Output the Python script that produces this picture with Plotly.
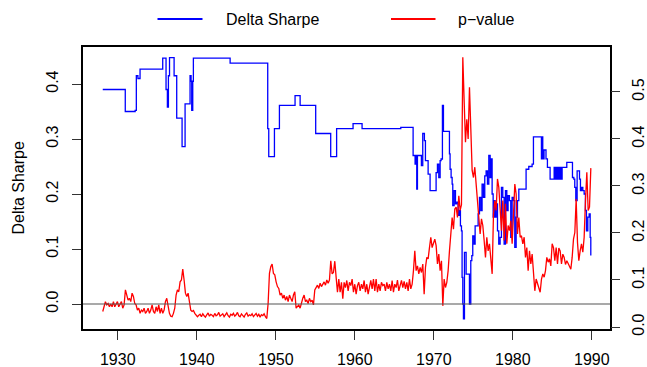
import plotly.graph_objects as go

# ---- Delta Sharpe: step series, each value holds until the next change date ----
ds_years = [
    1928.10, 1930.95, 1932.20, 1932.35, 1932.55, 1932.82, 1935.69, 1936.11, 1936.28, 1936.41,
    1936.55, 1937.13, 1937.46, 1938.14, 1938.52, 1939.15, 1939.28, 1939.36, 1939.49, 1939.57,
    1944.22, 1948.98, 1949.11, 1949.83, 1950.46, 1952.44, 1953.08, 1955.05, 1956.95, 1957.70,
    1959.78, 1960.92, 1965.82, 1967.38, 1967.63, 1967.76, 1967.84, 1967.93, 1968.43, 1968.60,
    1968.81, 1968.94, 1969.28, 1969.53, 1970.29, 1970.46, 1970.63, 1970.80, 1970.92, 1971.09,
    1971.22, 1971.98, 1972.06, 1972.19, 1972.32, 1972.40, 1972.57, 1972.74, 1972.91, 1973.08,
    1973.24, 1973.37, 1973.50, 1973.58, 1973.67, 1973.75, 1973.88, 1974.09, 1974.51, 1974.68,
    1974.81, 1974.93, 1975.10, 1975.23, 1975.61, 1975.78, 1975.95, 1976.11, 1976.28, 1976.45,
    1976.62, 1976.79, 1976.96, 1977.13, 1977.25, 1977.38, 1977.51, 1977.63, 1977.76, 1977.89,
    1978.06, 1978.22, 1978.39, 1978.56, 1978.73, 1978.90, 1979.07, 1979.24, 1979.40, 1979.57,
    1979.74, 1979.91, 1980.08, 1980.25, 1980.42, 1980.59, 1980.76, 1981.68, 1982.02, 1982.44,
    1982.61, 1983.62, 1983.70, 1983.79, 1983.95, 1984.20, 1984.38, 1984.72, 1985.23, 1985.36,
    1985.49, 1985.65, 1985.74, 1985.86, 1985.99, 1986.11, 1986.24, 1986.83, 1987.55, 1987.72,
    1987.84, 1987.97, 1988.14, 1988.44, 1988.56, 1988.69, 1988.86, 1989.03, 1989.19, 1989.32,
    1989.49, 1989.66, 1989.79, 1989.87,
]
ds_values = [
    0.390, 0.350, 0.352, 0.415, 0.410, 0.427, 0.447, 0.390, 0.358, 0.415,
    0.448, 0.415, 0.338, 0.286, 0.364, 0.415, 0.405, 0.352, 0.405, 0.447,
    0.438, 0.319, 0.268, 0.319, 0.361, 0.379, 0.361, 0.310, 0.268, 0.319,
    0.328, 0.319, 0.321, 0.270, 0.2545, 0.270, 0.209, 0.270, 0.2515, 0.310,
    0.297, 0.2606, 0.236, 0.206, 0.239, 0.2545, 0.230, 0.2606, 0.2636, 0.361,
    0.314, 0.273, 0.245, 0.230, 0.218, 0.179, 0.206, 0.182, 0.185, 0.161,
    0.170, 0.142, 0.133, 0.0485, 0.0, -0.027, 0.094, 0.0545, 0.0, 0.079,
    0.088, 0.124, 0.109, 0.142, 0.164, 0.194, 0.170, 0.218, 0.194, 0.233,
    0.242, 0.218, 0.270, 0.230, 0.264, 0.200, 0.158, 0.188, 0.158, 0.182,
    0.133, 0.109, 0.121, 0.212, 0.194, 0.109, 0.206, 0.170, 0.197, 0.188,
    0.121, 0.194, 0.188, 0.103, 0.158, 0.188, 0.209, 0.245, 0.250, 0.2545,
    0.304, 0.264, 0.304, 0.264, 0.280, 0.264, 0.2485, 0.227, 0.2485, 0.227,
    0.2485, 0.227, 0.2485, 0.227, 0.2485, 0.227, 0.2485, 0.2576, 0.230, 0.227,
    0.212, 0.188, 0.242, 0.227, 0.206, 0.212, 0.206, 0.200, 0.170, 0.133,
    0.158, 0.164, 0.121, 0.088,
]

# ---- p-value: sampled about every two months starting in early 1928 ----
pv_start = 1928.10
pv_step = 0.16878

pv_1928 = [  # 1928.1 - 1940.1
    0.033, 0.047, 0.054, 0.047, 0.050, 0.043, 0.049, 0.043, 0.054, 0.043,
    0.049, 0.054, 0.043, 0.050, 0.054, 0.040, 0.047, 0.079, 0.065, 0.057,
    0.061, 0.054, 0.072, 0.065, 0.050, 0.047, 0.036, 0.040, 0.029, 0.036,
    0.033, 0.040, 0.029, 0.033, 0.040, 0.029, 0.036, 0.047, 0.033, 0.029,
    0.043, 0.033, 0.047, 0.029, 0.040, 0.029, 0.036, 0.054, 0.061, 0.043,
    0.029, 0.023, 0.022, 0.029, 0.040, 0.068, 0.079, 0.075, 0.096, 0.100,
    0.123, 0.100, 0.072, 0.065, 0.072, 0.054, 0.036, 0.033, 0.035, 0.029,
    0.025, 0.022,
]
pv_1940 = [  # 1940.3 - 1948.7
    0.025, 0.027, 0.022, 0.028, 0.024, 0.021, 0.026, 0.030, 0.023, 0.027,
    0.025, 0.022, 0.029, 0.024, 0.026, 0.031, 0.023, 0.025, 0.028, 0.022,
    0.026, 0.030, 0.024, 0.021, 0.027, 0.025, 0.029, 0.023, 0.026, 0.031,
    0.024, 0.022, 0.028, 0.025, 0.021, 0.027, 0.030, 0.023, 0.026, 0.024,
    0.028, 0.022, 0.025, 0.029, 0.023, 0.027, 0.021, 0.026, 0.024, 0.028,
    0.022,
]
pv_1949 = [  # 1948.9 - 1956.8
    0.018, 0.050, 0.114, 0.128, 0.134, 0.114, 0.111, 0.096, 0.086, 0.082,
    0.068, 0.072, 0.061, 0.068, 0.057, 0.065, 0.054, 0.068, 0.061, 0.054,
    0.068, 0.075, 0.040, 0.043, 0.047, 0.040, 0.054, 0.061, 0.068, 0.054,
    0.057, 0.050, 0.061, 0.054, 0.057, 0.047, 0.079, 0.086, 0.089, 0.082,
    0.093, 0.086, 0.093, 0.096, 0.089, 0.100, 0.093, 0.100,
]
pv_1957 = [  # 1957.0 - 1965.7
    0.141, 0.113, 0.116, 0.140, 0.106, 0.074, 0.102, 0.074, 0.095, 0.060,
    0.095, 0.084, 0.099, 0.077, 0.095, 0.088, 0.102, 0.074, 0.091, 0.070,
    0.088, 0.095, 0.077, 0.091, 0.081, 0.099, 0.074, 0.091, 0.070, 0.084,
    0.099, 0.081, 0.102, 0.077, 0.102, 0.074, 0.091, 0.077, 0.095, 0.088,
    0.091, 0.077, 0.095, 0.081, 0.091, 0.077, 0.099, 0.074, 0.091, 0.084,
    0.100, 0.077, 0.091,
]
pv_1966 = [  # 1965.9 - 1975.2
    0.099, 0.084, 0.097, 0.081, 0.095, 0.077, 0.102, 0.081, 0.091, 0.120,
    0.162, 0.120, 0.130, 0.113, 0.127, 0.116, 0.134, 0.070, 0.127, 0.148,
    0.145, 0.169, 0.191, 0.169, 0.180, 0.187, 0.173, 0.134, 0.155, 0.120,
    0.141, 0.045, 0.102, 0.084, 0.095, 0.120, 0.162, 0.198, 0.233, 0.208,
    0.251, 0.255, 0.233, 0.279, 0.248, 0.260, 0.574, 0.482, 0.393, 0.442,
    0.400, 0.510, 0.411, 0.333, 0.318, 0.340,
]
pv_1975 = [  # 1975.4 - 1984.0
    0.304, 0.265, 0.226, 0.198, 0.230, 0.216, 0.184, 0.148, 0.191, 0.162,
    0.177, 0.134, 0.113, 0.240, 0.269, 0.248, 0.315, 0.297, 0.248, 0.205,
    0.269, 0.184, 0.262, 0.177, 0.216, 0.205, 0.226, 0.177, 0.240, 0.304,
    0.283, 0.198, 0.233, 0.191, 0.194, 0.177, 0.191, 0.148, 0.169, 0.120,
    0.162, 0.134, 0.155, 0.106, 0.077, 0.102, 0.091, 0.079, 0.074, 0.102,
    0.113, 0.106,
]
pv_1984 = [  # 1984.1 - 1989.9
    0.120, 0.148, 0.138, 0.145, 0.130, 0.177, 0.169, 0.141, 0.169, 0.134,
    0.168, 0.162, 0.134, 0.155, 0.148, 0.133, 0.141, 0.135, 0.128, 0.123,
    0.148, 0.187, 0.201, 0.272, 0.180, 0.141, 0.162, 0.177, 0.159, 0.191,
    0.269, 0.329, 0.248, 0.255, 0.338,
]

p_values = pv_1928 + pv_1940 + pv_1949 + pv_1957 + pv_1966 + pv_1975 + pv_1984
p_years = [round(pv_start + i * pv_step, 4) for i in range(len(p_values))]

x_ticks = [1930, 1940, 1950, 1960, 1970, 1980, 1990]
left_ticks = [0.0, 0.1, 0.2, 0.3, 0.4]
right_ticks = [0.0, 0.1, 0.2, 0.3, 0.4, 0.5]

# ---- page geometry (pixels) ----
W, H = 647, 367
ML, MR, MT, MB = 83, 37, 47, 38
PW, PH = W - ML - MR, H - MT - MB


def px_x(px):
    return (px - ML) / PW


def px_y(py):
    return (H - MB - py) / PH


FONT = "Liberation Sans, Arial, Helvetica, sans-serif"

fig = go.Figure()
fig.add_trace(go.Scatter(
    x=ds_years, y=ds_values, mode="lines", name="Delta Sharpe",
    line=dict(color="#0000ff", width=1.3, shape="hv"), yaxis="y",
))
fig.add_trace(go.Scatter(
    x=p_years, y=p_values, mode="lines", name="p\u2212value",
    line=dict(color="#ff0000", width=1.3), yaxis="y2",
))

fig.update_layout(
    width=W, height=H,
    margin=dict(l=ML, r=MR, t=MT, b=MB, pad=0, autoexpand=False),
    paper_bgcolor="white", plot_bgcolor="white",
    showlegend=False,
    font=dict(family=FONT, size=16, color="black"),
    xaxis=dict(
        range=[1925.6, 1992.3], tickvals=x_ticks, ticktext=[str(t) for t in x_ticks],
        ticks="outside", ticklen=9, tickwidth=1, tickcolor="#333",
        showline=True, mirror=True, linecolor="black", linewidth=2,
        showgrid=False, zeroline=False, ticklabelstandoff=6, automargin=False,
    ),
    yaxis=dict(
        range=[-0.04545, 0.46727], tickvals=left_ticks,
        ticktext=[f"{t:.1f}" for t in left_ticks], tickangle=-90,
        ticks="outside", ticklen=9, tickwidth=1, tickcolor="#333",
        showline=True, mirror=True, linecolor="black", linewidth=2,
        showgrid=False, zeroline=False, ticklabelstandoff=8, automargin=False,
    ),
    yaxis2=dict(
        range=[-0.00426, 0.5957], tickvals=right_ticks,
        ticktext=[f"{t:.1f}" for t in right_ticks], tickangle=-90,
        overlaying="y", side="right",
        ticks="outside", ticklen=9, tickwidth=1, tickcolor="#333",
        showline=False, showgrid=False, zeroline=False, ticklabelstandoff=5,
        automargin=False,
    ),
)

# reference line at zero Delta Sharpe
fig.add_shape(type="line", xref="paper", x0=0, x1=1, yref="y", y0=0, y1=0,
              line=dict(color="#555", width=1.2))

# legend row above the plot
legend_y = px_y(19)
for (x0, x1, color, label, tx) in [
    (157.5, 202.5, "#0000ff", "Delta Sharpe", 224),
    (391, 435.5, "#ff0000", "p\u2212value", 456),
]:
    fig.add_shape(type="line", xref="paper", yref="paper",
                  x0=px_x(x0), x1=px_x(x1), y0=legend_y, y1=legend_y,
                  line=dict(color=color, width=2))
    fig.add_annotation(text=label, xref="paper", yref="paper",
                       x=px_x(tx), y=legend_y, xanchor="left", yanchor="middle",
                       showarrow=False, font=dict(size=16, color="black"))

# left axis title
fig.add_annotation(text="Delta Sharpe", xref="paper", yref="paper",
                   x=px_x(17.5), y=0.5, xanchor="center", yanchor="middle",
                   textangle=-90, showarrow=False, font=dict(size=16, color="black"))

fig.write_html("out.html")
